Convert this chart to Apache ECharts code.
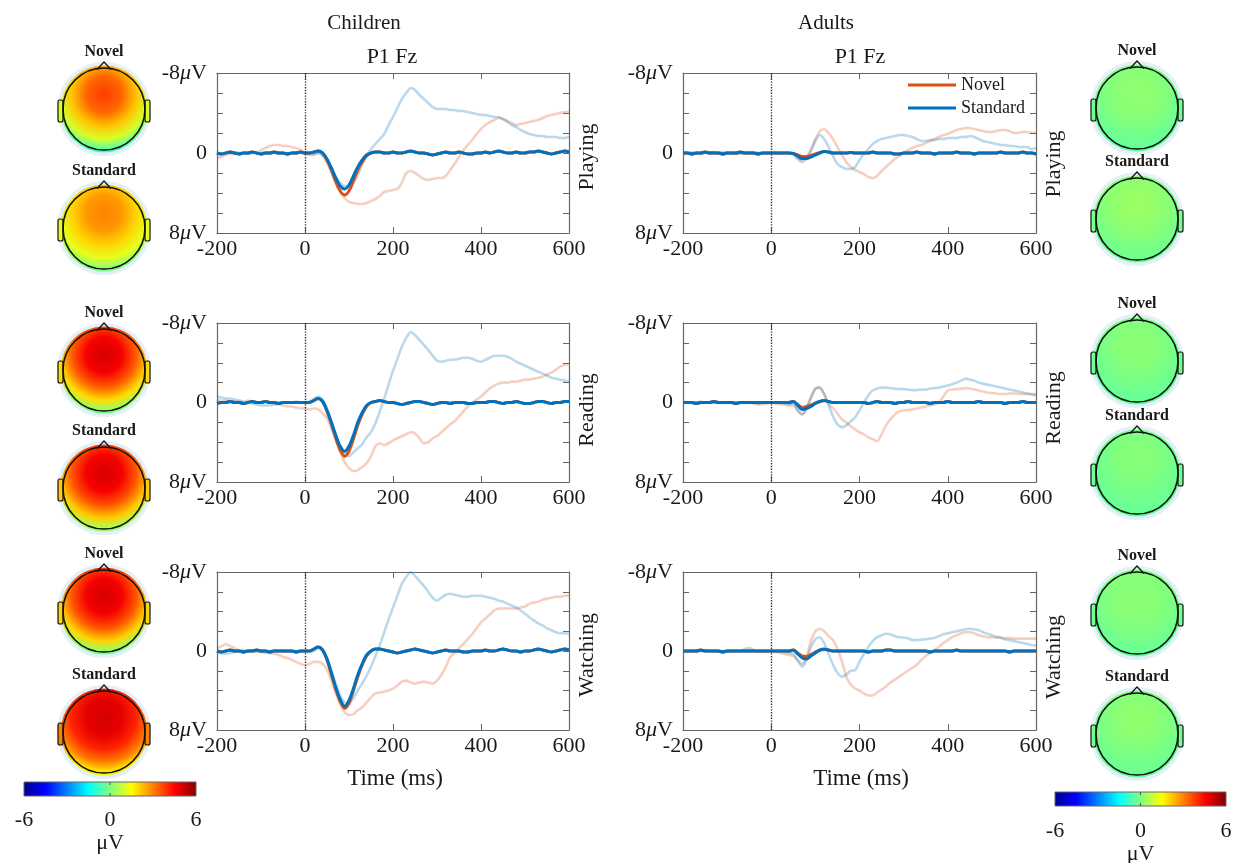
<!DOCTYPE html>
<html><head><meta charset="utf-8">
<script src="https://cdn.jsdelivr.net/npm/echarts@6/dist/echarts.min.js"></script>
<style>html,body{margin:0;padding:0;background:#fff}#c{width:1234px;height:863px}</style>
</head><body><div id="c"></div>
<script>
// ---------------- data ----------------
const TIME_START = -200, TIME_STEP = 10;   // samples every 10 ms from -200 to 600
const X_MIN = -200, X_MAX = 600, X_INTERVAL = 200;
const Y_MIN = -8, Y_MAX = 8, Y_INTERVAL = 2;
const GROUPS = ['Children', 'Adults'];
const CONDITIONS = ['Playing', 'Reading', 'Watching'];
const PANEL_TITLE = 'P1 Fz';
const SERIES_NAMES = ['Novel', 'Standard'];
const COLORBAR_TICKS = [-6, 0, 6];
const COLORBAR_UNIT = 'μV';

// Children - Playing
const cPlayNov = [0,0.1,0,-0.1,0,0.1,0,0,-0.1,0, 0.1,0,0,-0.1,0,0,0.1,0,0,-0.1, 0,0,-0.1,-0.2,0,0.7,1.7,2.9,3.8,4.2, 3.8,2.8,1.7,0.9,0.3,0,-0.1,-0.1,0,0, -0.1,0,0,-0.1,-0.2,-0.1,0,0,0.1,0.2, 0.1,0,-0.1,0,0,-0.1,0,0.1,0.1,0, 0,-0.1,0,-0.1,-0.2,-0.1,0,0,-0.1,0, 0,-0.1,-0.1,-0.2,-0.1,0,0.1,0,-0.1,-0.2, -0.1];
const cPlayStd = [0,0.1,0,-0.1,0,0.1,0,0,-0.1,0, 0.1,0,0,-0.1,0,0,0.1,0,0,-0.1, 0,0,-0.1,-0.2,0,0.6,1.5,2.5,3.3,3.6, 3.2,2.3,1.4,0.7,0.2,0,-0.1,-0.1,0,0, -0.1,0,0,-0.1,-0.2,-0.1,0,0,0.1,0.2, 0.1,0,-0.1,0,0,-0.1,0,0.1,0.1,0, 0,-0.1,0,-0.1,-0.2,-0.1,0,0,-0.1,0, 0,-0.1,-0.1,-0.2,-0.1,0,0.1,0,-0.1,-0.2, -0.1];
const cPlayNovL = [0.5,0.4,0.2,0.1,0.1,0,0,0,-0.1,0, -0.3,-0.5,-0.7,-0.8,-0.8,-0.7,-0.7,-0.6,-0.5,-0.3, 0,0.2,0.2,0,0.3,1.0,2.0,3.0,3.9,4.5, 4.9,5.0,5.1,5.1,5.0,4.8,4.6,4.3,3.9,3.8, 3.7,3.6,3.0,2.0,1.8,2.0,2.3,2.6,2.7,2.6, 2.5,2.5,2.3,1.7,1.1,0.4,-0.3,-0.8,-1.3,-1.9, -2.4,-2.8,-3.1,-3.3,-3.5,-3.4,-3.2,-3.0,-2.8,-2.9, -3.0,-3.1,-3.2,-3.3,-3.5,-3.7,-3.8,-3.9,-4.0,-4.1, -4.1];
const cPlayStdL = [0,0.1,0,0,-0.1,0,0,0.1,0,0, 0,-0.1,0,0,0.1,0,0,0,-0.1,0, 0,0.1,0.1,0,0.2,0.7,1.5,2.4,3.0,3.3, 3.3,3.0,2.2,1.1,0.2,-0.4,-0.9,-1.4,-1.9,-2.8, -3.6,-4.5,-5.4,-6.0,-6.5,-6.3,-5.8,-5.4,-5.0,-4.6, -4.4,-4.4,-4.4,-4.3,-4.3,-4.2,-4.2,-4.1,-4.0,-3.9, -3.8,-3.8,-3.7,-3.6,-3.6,-3.4,-3.1,-2.8,-2.6,-2.3, -2.1,-1.9,-1.8,-1.7,-1.7,-1.6,-1.6,-1.6,-1.5,-1.5, -1.6];

// Adults - Playing
const aPlayNov = [0,0,0.1,0,0,-0.1,0,0,0,0.1, 0,0,0,-0.1,0,0,0,0.1,0,0, 0,0,0,0,0,0.05,0.2,0.35,0.35,0.25, 0.1,-0.05,-0.15,-0.1,0,0,0,0,-0.05,0, 0,0,0,-0.1,0,0,0,0,0.1,0.1, 0,0,0,-0.1,0,0,0,0.1,0,0, 0,0,-0.1,0,0,0,0.1,0,0,0, 0,0,-0.1,0,0,0,0,-0.1,0,0, 0.1];
const aPlayStd = [0,0,0.1,0,0,-0.1,0,0,0,0.1, 0,0,0,-0.1,0,0,0,0.1,0,0, 0,0,0,0,0,0.05,0.3,0.55,0.55,0.4, 0.2,0,-0.15,-0.1,0,0,0,0,-0.05,0, 0,0,0,-0.1,0,0,0,0,0.1,0.1, 0,0,0,-0.1,0,0,0,0.1,0,0, 0,0,-0.1,0,0,0,0.1,0,0,0, 0,0,-0.1,0,0,0,0,-0.1,0,0, 0.1];
const aPlayNovL = [0,0,-0.1,0,0,-0.1,-0.1,0,-0.1,-0.1, -0.1,0,0,0.1,0,-0.1,-0.1,0,0,0, 0,0,0,0,0,0.1,0.5,0.7,0.4,-0.4, -1.4,-2.2,-2.4,-2.0,-1.4,-0.6,0.2,0.9,1.4,1.7, 1.9,2.1,2.4,2.5,2.3,1.8,1.4,1.0,0.6,0.3, 0,-0.3,-0.5,-0.7,-0.8,-1.0,-1.2,-1.4,-1.6,-1.8, -1.9,-2.1,-2.3,-2.4,-2.5,-2.5,-2.4,-2.3,-2.2,-2.1, -2.1,-2.2,-2.3,-2.3,-2.2,-2.0,-2.0,-2.1,-2.1,-2.0, -2.0];
const aPlayStdL = [0,0,0,0,0.1,0,0,-0.1,0,0, 0,0,0.1,0,0,0,0,0,0,0, 0,0,0,0,0,0.1,0.6,0.9,0.6,-0.2, -1.2,-1.8,-1.4,-0.6,0.3,1.1,1.4,1.6,1.6,1.4, 0.7,0.1,-0.4,-0.9,-1.2,-1.4,-1.5,-1.6,-1.7,-1.8, -1.8,-1.7,-1.6,-1.4,-1.2,-1.2,-1.3,-1.3,-1.4,-1.4, -1.5,-1.5,-1.5,-1.6,-1.6,-1.7,-1.6,-1.4,-1.2,-1.1, -1.0,-0.9,-0.8,-0.8,-0.7,-0.7,-0.6,-0.6,-0.6,-0.4, -0.5];

// Children - Reading
const cReadNov = [0.1,0,0,-0.1,0,0,0.1,0,-0.1,0, 0,-0.1,0,0,0.1,0,0,0,0,0, 0,0,-0.2,-0.4,-0.1,0.9,2.2,3.6,4.8,5.4, 4.9,3.7,2.3,1.2,0.4,0,-0.1,-0.2,-0.1,0, 0,0.1,0.2,0.1,0,-0.1,-0.1,0,0.1,0.2, 0.1,0,0,0.1,0,0,0,0.1,0.1,0, 0,0,-0.1,-0.1,0,0.1,0,0,-0.1,0, 0.1,0.1,0,-0.1,-0.1,0,0.1,0,0,-0.1, -0.1];
const cReadStd = [0.1,0,0,-0.1,0,0,0.1,0,-0.1,0, 0,-0.1,0,0,0.1,0,0,0,0,0, 0,0,-0.2,-0.4,-0.1,0.8,2.0,3.3,4.4,4.9, 4.4,3.3,2.0,1.0,0.3,0,-0.1,-0.2,-0.1,0, 0,0.1,0.2,0.1,0,-0.1,-0.1,0,0.1,0.2, 0.1,0,0,0.1,0,0,0,0.1,0.1,0, 0,0,-0.1,-0.1,0,0.1,0,0,-0.1,0, 0.1,0.1,0,-0.1,-0.1,0,0.1,0,0,-0.1, -0.1];
const cReadNovL = [-0.3,-0.2,-0.2,-0.1,-0.1,-0.1,0,-0.2,-0.1,0, 0,-0.1,0,0.1,0.2,0.3,0.4,0.4,0.5,0.6, 0.6,0.7,0.6,0.7,1.1,1.6,2.6,3.8,5.0,6.0, 6.6,6.9,6.8,6.5,6.1,5.4,4.4,4.1,4.3,4.1, 3.8,3.6,3.4,3.2,3.0,3.1,3.6,4.1,4.0,3.6, 3.4,3.0,2.6,2.2,1.9,1.4,0.9,0.4,0,-0.3, -0.6,-1.0,-1.4,-1.7,-1.9,-2.0,-2.0,-2.1,-2.1,-2.2, -2.3,-2.3,-2.4,-2.5,-2.6,-2.8,-3.0,-3.3,-3.6,-3.8, -3.9];
const cReadStdL = [-0.6,-0.5,-0.4,-0.4,-0.3,-0.2,-0.1,0,0.1,0.2, 0.3,0.3,0.3,0.2,0.1,0,0,0,-0.1,0, 0,-0.1,-0.4,-0.6,-0.3,0.6,1.9,3.3,4.5,5.2, 5.4,5.0,4.6,4.2,3.5,3.0,2.1,0.9,-0.4,-1.8, -3.2,-4.4,-5.6,-6.5,-7.1,-6.8,-6.3,-5.8,-5.3,-4.7, -4.2,-4.1,-4.2,-4.3,-4.3,-4.4,-4.5,-4.5,-4.4,-4.2, -4.1,-4.3,-4.5,-4.7,-4.7,-4.7,-4.6,-4.4,-4.1,-3.9, -3.7,-3.5,-3.3,-3.1,-2.9,-2.7,-2.5,-2.4,-2.3,-2.2, -2.1];

// Adults - Reading
const aReadNov = [0,0,0,0.1,0,0,0,-0.1,0,0, 0,0,0.1,0,0,0,0,0,0,0, 0,0,0,0,0,-0.1,0.2,0.5,0.4,0.25, 0.05,-0.1,-0.2,-0.1,0,0,0,0,0,0, 0,0,0.1,0,-0.1,0,0,0,0.1,0, 0,-0.1,0,0,0,0,0.1,0,0,0, -0.1,0,0,0,0,0,0,-0.1,0,0, 0,0,0,0.1,0,0,0,-0.1,0,0, 0];
const aReadStd = [0,0,0,0.1,0,0,0,-0.1,0,0, 0,0,0.1,0,0,0,0,0,0,0, 0,0,0,0,0,-0.1,0.3,0.7,0.6,0.4, 0.1,-0.1,-0.2,-0.1,0,0,0,0,0,0, 0,0,0.1,0,-0.1,0,0,0,0.1,0, 0,-0.1,0,0,0,0,0.1,0,0,0, -0.1,0,0,0,0,0,0,-0.1,0,0, 0,0,0,0.1,0,0,0,-0.1,0,0, 0];
const aReadNovL = [0,0,0,0,0,0,0,0,0,0, 0,0,0,0,0,0,0.1,0.2,0.2,0.1, 0,0.1,0.2,0.2,0.3,0.3,0.8,1.2,0.6,-0.5, -1.4,-1.5,-0.9,0.1,0.6,1.1,1.7,2.0,2.4,2.7, 3.0,3.2,3.5,3.7,3.9,3.2,2.3,1.7,1.2,0.9, 0.8,0.75,0.7,0.6,0.5,0.4,0.3,0.2,0,-0.6, -1.2,-1.3,-1.35,-1.4,-1.45,-1.4,-1.3,-1.2,-1.1,-1.0, -0.95,-0.9,-0.85,-0.85,-0.9,-0.9,-0.85,-0.85,-0.85,-0.85, -0.85];
const aReadStdL = [-0.1,0,0,0,-0.1,0,0,0,0,0, 0,0,0,0,0,0,0,0.1,0,0, 0,0,0,0.1,0.2,0.1,0.8,1.2,0.6,-0.5, -1.4,-1.5,-0.8,0.3,1.4,2.2,2.5,2.3,1.9,1.5, 0.8,0,-0.7,-1.2,-1.4,-1.5,-1.5,-1.45,-1.4,-1.35, -1.35,-1.3,-1.25,-1.25,-1.3,-1.3,-1.4,-1.45,-1.5,-1.6, -1.7,-1.85,-2.0,-2.2,-2.4,-2.3,-2.2,-2.0,-1.9,-1.8, -1.7,-1.6,-1.5,-1.4,-1.3,-1.2,-1.1,-1.0,-0.9,-0.8, -0.7];

// Children - Watching
const cWatchNov = [0,0.1,0,-0.1,0,0,0.1,0,0,-0.1, 0,0,0.1,0,0,0,0,0,0.1,0, 0,0,-0.2,-0.4,-0.1,0.9,2.4,3.9,5.1,5.8, 5.3,4.0,2.6,1.4,0.5,0,-0.2,-0.2,-0.1,0, 0.1,0.2,0.1,0,-0.1,-0.2,-0.1,0,0.1,0.2, 0.1,0,-0.1,0,0,0,0.1,0.1,0,0, 0,-0.1,0,0,-0.1,-0.2,-0.1,0,0,0.1, 0,0,-0.1,-0.2,-0.1,0,0.1,0,-0.1,-0.2, -0.1];
const cWatchStd = [0,0.1,0,-0.1,0,0,0.1,0,0,-0.1, 0,0,0.1,0,0,0,0,0,0.1,0, 0,0,-0.2,-0.4,-0.1,0.8,2.2,3.7,4.9,5.6, 5.0,3.8,2.4,1.3,0.4,0,-0.2,-0.2,-0.1,0, 0.1,0.2,0.1,0,-0.1,-0.2,-0.1,0,0.1,0.2, 0.1,0,-0.1,0,0,0,0.1,0.1,0,0, 0,-0.1,0,0,-0.1,-0.2,-0.1,0,0,0.1, 0,0,-0.1,-0.2,-0.1,0,0.1,0,-0.1,-0.2, -0.1];
const cWatchNovL = [-0.2,-0.5,-0.7,-0.5,-0.3,-0.1,-0.1,0,0,0.1, 0.1,0.2,0.2,0.3,0.4,0.6,0.7,0.9,1.1,1.3, 1.45,1.3,1.1,1.1,1.3,1.9,3.0,4.3,5.4,6.2, 6.5,6.4,6.0,5.7,5.2,4.7,4.3,4.2,4.1,4.0, 3.8,3.5,3.1,3.0,3.2,3.3,3.2,3.1,3.2,3.3, 3.0,2.4,1.6,0.6,0.2,-0.3,-0.7,-1.2,-1.7,-2.3, -2.9,-3.3,-3.7,-4.1,-4.3,-4.3,-4.3,-4.3,-4.3,-4.4, -4.5,-4.8,-4.9,-5.0,-5.2,-5.3,-5.4,-5.5,-5.5,-5.6, -5.6];
const cWatchStdL = [0.1,0.2,0.3,0.2,0.1,0,0,0,-0.1,0, 0,0,0,-0.1,0,0,0,0,0,0, 0,0.1,0,-0.3,0,0.8,2.0,3.3,4.5,5.2, 5.3,4.8,4.0,3.3,2.5,1.6,0.5,-0.6,-1.9,-3.2, -4.4,-5.6,-6.8,-7.5,-8.0,-7.6,-7.1,-6.6,-6.0,-5.4, -5.1,-5.4,-5.7,-5.8,-5.7,-5.6,-5.5,-5.5,-5.6,-5.6, -5.6,-5.5,-5.4,-5.3,-5.1,-5.0,-4.8,-4.6,-4.4,-4.1, -3.8,-3.4,-3.1,-2.8,-2.6,-2.3,-2.1,-1.9,-1.8,-1.8, -1.75];

// Adults - Watching
const aWatchNov = [0,0,0,0,-0.1,0,0,0,0,0.1, 0,0,0,0,0,0,0,0,0,0, 0,0,0,0,0,-0.1,0.2,0.5,0.55,0.35, 0.1,-0.1,-0.15,-0.1,0,0,0,0,0,0, 0,0,0.1,0,0,0,-0.1,-0.1,0,0, 0,0,0,0,0,0,0.1,0,0,0, 0,0,-0.1,0,0,0,0,0,0,0, 0,0,0,0,0.1,0,0,0,0,0, 0];
const aWatchStd = [0,0,0,0,-0.1,0,0,0,0,0.1, 0,0,0,0,0,0,0,0,0,0, 0,0,0,0,0,-0.1,0.3,0.7,0.8,0.5, 0.2,-0.1,-0.2,-0.1,0,0,0,0,0,0, 0,0,0.1,0,0,0,-0.1,-0.1,0,0, 0,0,0,0,0,0,0.1,0,0,0, 0,0,-0.1,0,0,0,0,0,0,0, 0,0,0,0,0.1,0,0,0,0,0, 0];
const aWatchNovL = [0,0,0,0.1,0,0,0,0,0,0, 0,0,0,0,0,0,0,0.1,0.1,0.1, 0.1,0.1,0.2,0.3,0.4,0.5,0.9,1.3,0.6,-1.0, -2.0,-2.25,-2.0,-1.5,-1.1,-0.2,1.0,2.6,3.4,3.8, 4.0,4.3,4.5,4.5,4.2,3.9,3.6,3.2,2.9,2.6, 2.3,2.0,1.7,1.4,0.9,0.5,0.2,-0.1,-0.4,-0.8, -1.1,-1.4,-1.6,-1.8,-1.9,-1.9,-1.8,-1.6,-1.5,-1.4, -1.4,-1.35,-1.35,-1.3,-1.3,-1.25,-1.25,-1.25,-1.25,-1.25, -1.25];
const aWatchStdL = [0,0.1,0,0,0,-0.1,0,0,0,0, 0,0,0,0,-0.2,-0.3,-0.1,0,0,0, 0,0,0,0.1,0.2,0.3,1.0,1.6,0.9,-0.4, -1.2,-1.4,-0.8,0.3,1.4,2.2,2.6,2.4,2.0,1.95, 1.1,0.3,-0.4,-1.0,-1.4,-1.6,-1.75,-1.7,-1.5,-1.4, -1.35,-1.3,-1.1,-1.1,-1.15,-1.2,-1.25,-1.35,-1.5,-1.7, -1.8,-1.9,-2.0,-2.1,-2.2,-2.25,-2.2,-2.1,-1.9,-1.75, -1.6,-1.45,-1.35,-1.2,-1.1,-1.0,-0.9,-0.8,-0.7,-0.6, -0.55];

// Topographic maps: μV values from the map centre (upper-frontal) outwards to the rim
const childPlayNovelMap = [3.8, 3.3, 2.2, 1.0, -0.5, -1.4];
const childPlayStdMap   = [3.0, 2.7, 2.0, 1.2, 0.1, -0.8];
const childReadNovelMap = [5.0, 4.6, 3.4, 1.9, 0.2, -1.0];
const childReadStdMap   = [5.0, 4.6, 3.5, 2.1, 0.5, -0.6];
const childWatchNovelMap= [5.0, 4.6, 3.5, 2.0, 0.2, -1.0];
const childWatchStdMap  = [5.0, 4.8, 4.1, 3.0, 1.6, 0.8];
const adultPlayNovelMap = [0.2, 0.15, 0.0, -0.2, -0.3, -0.4];
const adultPlayStdMap   = [0.35, 0.25, 0.1, -0.1, -0.2, -0.3];
const adultReadNovelMap = [0.15, 0.1, -0.05, -0.2, -0.3, -0.4];
const adultReadStdMap   = [0.1, 0.05, -0.1, -0.2, -0.3, -0.4];
const adultWatchNovelMap= [0.15, 0.1, 0.0, -0.15, -0.3, -0.4];
const adultWatchStdMap  = [0.25, 0.15, 0.0, -0.15, -0.25, -0.3];
const MAP_MIN = -6, MAP_MAX = 6;

// ---------------- drawing ----------------
const FONT = '"Liberation Serif", "Times New Roman", serif';
const FRAME = '#666';
const TXT = '#1a1a1a';
const NOVEL_C = '#D95319', STD_C = '#0072BD';
const JET_POS = [0, 0.125, 0.375, 0.625, 0.875, 1];
const JET_COL = [[0,0,143],[0,0,255],[0,255,255],[255,255,0],[255,0,0],[128,0,0]];

function jet(v) {
  let f = (v - MAP_MIN) / (MAP_MAX - MAP_MIN);
  f = Math.max(0, Math.min(1, f));
  for (let k = 0; k < JET_POS.length - 1; k++) {
    if (f <= JET_POS[k + 1]) {
      const t = (f - JET_POS[k]) / (JET_POS[k + 1] - JET_POS[k]);
      const a = JET_COL[k], b = JET_COL[k + 1];
      return 'rgb(' + a.map((c, j) => Math.round(c + (b[j] - c) * t)).join(',') + ')';
    }
  }
  return 'rgb(128,0,0)';
}
function pairs(arr) { return arr.map((v, i) => [TIME_START + i * TIME_STEP, v]); }

const panelData = [
  [cPlayNov, cPlayStd, cPlayNovL, cPlayStdL], [aPlayNov, aPlayStd, aPlayNovL, aPlayStdL],
  [cReadNov, cReadStd, cReadNovL, cReadStdL], [aReadNov, aReadStd, aReadNovL, aReadStdL],
  [cWatchNov, cWatchStd, cWatchNovL, cWatchStdL], [aWatchNov, aWatchStd, aWatchNovL, aWatchStdL]
];

const GRID_LEFT = [217, 683], GRID_W = [352, 353];
const ROW_TOP = [73, 323, 572], ROW_H = [160, 159, 158];

const grids = [], xAxes = [], yAxes = [], series = [];
const axisLine = { show: true, onZero: false, lineStyle: { color: FRAME, width: 1.2 } };
const axisTick = { show: true, inside: true, length: 6, lineStyle: { color: FRAME, width: 1 } };
const yRich = {
  n: { fontSize: 22, fontFamily: FONT, color: TXT },
  i: { fontSize: 22, fontFamily: FONT, color: TXT, fontStyle: 'italic' }
};
for (let r = 0; r < 3; r++) {
  for (let c = 0; c < 2; c++) {
    const i = r * 2 + c;
    grids.push({ left: GRID_LEFT[c], top: ROW_TOP[r], width: GRID_W[c], height: ROW_H[r], outerBoundsMode: 'none', containLabel: false });
    xAxes.push({ gridIndex: i, type: 'value', min: X_MIN, max: X_MAX, interval: X_INTERVAL, position: 'bottom',
      axisLine, axisTick, splitLine: { show: false },
      axisLabel: { fontSize: 22, fontFamily: FONT, color: TXT, margin: 5 } });
    xAxes.push({ gridIndex: i, type: 'value', min: X_MIN, max: X_MAX, interval: X_INTERVAL, position: 'top',
      axisLine, axisTick, splitLine: { show: false }, axisLabel: { show: false } });
    yAxes.push({ gridIndex: i, type: 'value', min: Y_MIN, max: Y_MAX, interval: Y_INTERVAL, inverse: true, position: 'left',
      axisLine, axisTick, splitLine: { show: false },
      axisLabel: { margin: 10, rich: yRich, formatter: function (v) {
        if (v === Y_MIN) return '{n|' + Y_MIN + '}{i|μ}{n|V}';
        if (v === Y_MAX) return '{n|' + Y_MAX + '}{i|μ}{n|V}';
        if (v === 0) return '{n|0}';
        return '';
      } } });
    yAxes.push({ gridIndex: i, type: 'value', min: Y_MIN, max: Y_MAX, interval: Y_INTERVAL, inverse: true, position: 'right',
      axisLine, axisTick, splitLine: { show: false }, axisLabel: { show: false } });

    const d = panelData[i];
    const base = { type: 'line', xAxisIndex: 2 * i, yAxisIndex: 2 * i, showSymbol: false, symbol: 'none', silent: true, animation: false };
    series.push(Object.assign({}, base, { name: 'Novel (light)', data: pairs(d[2]), smooth: 0.2, z: 2,
      itemStyle: { color: NOVEL_C }, lineStyle: { color: NOVEL_C, width: 2.6, opacity: 0.27 },
      markLine: { silent: true, symbol: ['none', 'none'], label: { show: false }, animation: false,
        lineStyle: { type: 'dotted', color: '#333', width: 1.4, opacity: 1 }, data: [{ xAxis: 0 }] } }));
    series.push(Object.assign({}, base, { name: 'Standard (light)', data: pairs(d[3]), smooth: 0.2, z: 2,
      itemStyle: { color: STD_C }, lineStyle: { color: STD_C, width: 2.6, opacity: 0.27 } }));
    series.push(Object.assign({}, base, { name: SERIES_NAMES[0], data: pairs(d[0]), smooth: 0.3, z: 3,
      itemStyle: { color: NOVEL_C }, lineStyle: { color: NOVEL_C, width: 3 } }));
    series.push(Object.assign({}, base, { name: SERIES_NAMES[1], data: pairs(d[1]), smooth: 0.3, z: 4,
      itemStyle: { color: STD_C }, lineStyle: { color: STD_C, width: 3 } }));
  }
}

// ---------- graphic: texts, head maps, colour bars ----------
const graphic = [];
function txt(s, x, y, size, opts) {
  opts = opts || {};
  graphic.push({ type: 'text', x: x, y: y, rotation: opts.rotation || 0, silent: true,
    style: { text: s, x: 0, y: 0, font: (opts.bold ? 'bold ' : '') + size + 'px ' + FONT, fill: TXT,
      textAlign: 'center', textVerticalAlign: 'middle', align: 'center', verticalAlign: 'middle' } });
}
txt(GROUPS[0], 364, 23, 21);
txt(GROUPS[1], 826, 23, 21);
txt(PANEL_TITLE, 392, 57, 22);
txt(PANEL_TITLE, 860, 57, 22);
const condY = [[157, 164], [410, 408], [655, 657]];
for (let r = 0; r < 3; r++) {
  txt(CONDITIONS[r], 587, condY[r][0], 22, { rotation: Math.PI / 2 });
  txt(CONDITIONS[r], 1054, condY[r][1], 22, { rotation: Math.PI / 2 });
}
txt('Time (ms)', 395, 779, 23);
txt('Time (ms)', 861, 779, 23);

const HEAD_STOPS = [0, 0.28, 0.5, 0.7, 0.86, 1];
function head(cx, cy, title, vals) {
  txt(title, cx, cy - 57, 16, { bold: true });
  graphic.push({ type: 'circle', silent: true, shape: { cx: cx, cy: cy, r: 47 }, style: { fill: '#e3f0fa' } });
  graphic.push({ type: 'circle', silent: true, shape: { cx: cx, cy: cy, r: 43.5 },
    style: { fill: { type: 'radial', x: 0.5, y: 0.33, r: 0.74,
      colorStops: vals.map((v, k) => ({ offset: HEAD_STOPS[k], color: jet(v) })) } } });
  const earFill = jet(vals[3]);
  graphic.push({ type: 'rect', silent: true, shape: { x: cx - 46, y: cy - 9, width: 5, height: 22, r: 2 },
    style: { fill: earFill, stroke: '#111', lineWidth: 1.2 } });
  graphic.push({ type: 'rect', silent: true, shape: { x: cx + 41, y: cy - 9, width: 5, height: 22, r: 2 },
    style: { fill: earFill, stroke: '#111', lineWidth: 1.2 } });
  graphic.push({ type: 'polyline', silent: true, shape: { points: [[cx - 7, cy - 39.5], [cx, cy - 47], [cx + 7, cy - 39.5]] },
    style: { fill: null, stroke: '#111', lineWidth: 1.2 } });
  graphic.push({ type: 'circle', silent: true, shape: { cx: cx, cy: cy, r: 41 },
    style: { fill: 'rgba(0,0,0,0)', stroke: '#111', lineWidth: 1.6 } });
}
head(104, 109, SERIES_NAMES[0], childPlayNovelMap);
head(104, 228, SERIES_NAMES[1], childPlayStdMap);
head(104, 370, SERIES_NAMES[0], childReadNovelMap);
head(104, 488, SERIES_NAMES[1], childReadStdMap);
head(104, 611, SERIES_NAMES[0], childWatchNovelMap);
head(104, 732, SERIES_NAMES[1], childWatchStdMap);
head(1137, 108, SERIES_NAMES[0], adultPlayNovelMap);
head(1137, 219, SERIES_NAMES[1], adultPlayStdMap);
head(1137, 361, SERIES_NAMES[0], adultReadNovelMap);
head(1137, 473, SERIES_NAMES[1], adultReadStdMap);
head(1137, 613, SERIES_NAMES[0], adultWatchNovelMap);
head(1137, 734, SERIES_NAMES[1], adultWatchStdMap);

function colorbar(x, y, w, h, labelY, unitY) {
  graphic.push({ type: 'rect', silent: true, shape: { x: x, y: y, width: w, height: h },
    style: { fill: { type: 'linear', x: 0, y: 0, x2: 1, y2: 0,
      colorStops: JET_POS.map((p, k) => ({ offset: p, color: 'rgb(' + JET_COL[k].join(',') + ')' })) },
      stroke: '#666', lineWidth: 1 } });
  graphic.push({ type: 'line', silent: true, shape: { x1: x + w / 2, y1: y, x2: x + w / 2, y2: y + 3 }, style: { stroke: '#555', lineWidth: 1 } });
  graphic.push({ type: 'line', silent: true, shape: { x1: x + w / 2, y1: y + h, x2: x + w / 2, y2: y + h - 3 }, style: { stroke: '#555', lineWidth: 1 } });
  COLORBAR_TICKS.forEach(v => txt(String(v), x + (v - MAP_MIN) / (MAP_MAX - MAP_MIN) * w, labelY, 22));
  txt(COLORBAR_UNIT, x + w / 2, unitY, 22);
}
colorbar(24, 782, 172, 14, 820, 843);
colorbar(1055, 792, 171, 14, 831, 854);

const option = {
  backgroundColor: '#fff',
  animation: false,
  grid: grids,
  xAxis: xAxes,
  yAxis: yAxes,
  legend: { data: SERIES_NAMES, left: 908, top: 76, orient: 'vertical', icon: 'rect', itemWidth: 48, itemHeight: 3,
    itemGap: 5, selectedMode: false, padding: 0,
    textStyle: { fontSize: 18, fontFamily: FONT, color: TXT, lineHeight: 18 } },
  series: series,
  graphic: graphic
};
const chart = echarts.init(document.getElementById('c'), null, { renderer: 'canvas' });
chart.setOption(option);
</script></body></html>
